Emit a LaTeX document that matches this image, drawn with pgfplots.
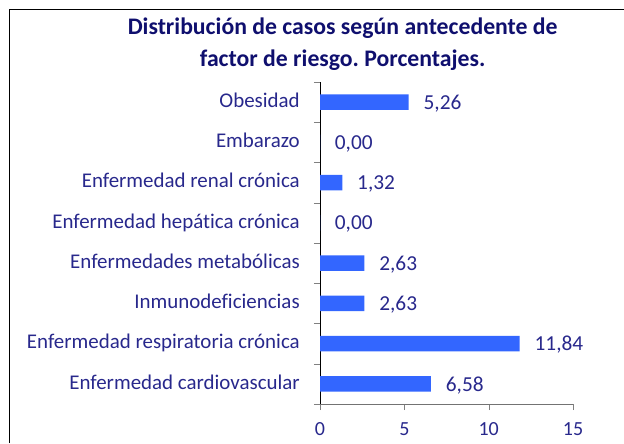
\documentclass[border=0pt]{standalone}
\usepackage{fontspec}
\setmainfont{Carlito}[Ligatures={NoCommon}]
\frenchspacing
\usepackage{pgfplots}
\pgfplotsset{compat=1.18}
\definecolor{barblue}{RGB}{51,102,255}
\definecolor{labelblue}{RGB}{40,40,140}
\definecolor{titleblue}{RGB}{15,15,110}
\begin{document}
\begin{tikzpicture}
\useasboundingbox (0,0) rectangle (468pt,332.25pt);
% chart frame (only left and top edges are in the picture)
\draw[black, line width=0.9pt] (7.1pt,0) -- (7.1pt,325.1pt) -- (470pt,325.1pt);
\node[font=\fontsize{17.8}{24}\selectfont\bfseries, text=titleblue, align=center]
  at (257pt,299.25pt) {Distribución de casos según antecedente de\\factor de riesgo. Porcentajes.};
\begin{axis}[
    at={(240pt,29.25pt)}, anchor=south west,
    scale only axis,
    width=189.75pt, height=241.5pt,
    xbar, bar width=11.5pt,
    xmin=0, xmax=15, ymin=0.5, ymax=8.5,
    xtick={0,5,10,15},
    minor xtick={0,5,10,15},
    ytick={1,...,8},
    minor ytick={0.5,1.5,...,8.5},
    yticklabels={Enfermedad cardiovascular, Enfermedad respiratoria crónica,
        Inmunodeficiencias, Enfermedades metabólicas, Enfermedad hepática crónica,
        Enfermedad renal crónica, Embarazo, Obesidad},
    major tick length=0pt, minor tick length=4.5pt,
    tick align=outside,
    axis y line*=left, axis x line*=bottom,
    x axis line style={black!55, -},
    y axis line style={black, -},
    /pgf/number format/assume math mode=true,
    yticklabel style={font=\fontsize{15.7}{18}\selectfont, text=labelblue,
        inner sep=0pt, xshift=-15pt, yshift=-1pt, text height=1.5ex, text depth=0.25ex},
    xticklabel style={font=\fontsize{15}{18}\selectfont, text=labelblue,
        inner sep=0pt, yshift=-13.5pt},
    nodes near coords={\pgfmathprintnumber[fixed, fixed zerofill, precision=2, use comma]{\pgfplotspointmeta}},
    point meta=x,
    every node near coord/.append style={font=\fontsize{16}{18}\selectfont,
        text=labelblue, anchor=west, inner sep=0pt, xshift=11pt, yshift=-1pt},
    clip=false,
]
\addplot[draw=none, fill=barblue] coordinates {
    (6.58,1) (11.84,2) (2.63,3) (2.63,4) (0,5) (1.32,6) (0,7) (5.26,8)
};
\end{axis}
\end{tikzpicture}
\end{document}
